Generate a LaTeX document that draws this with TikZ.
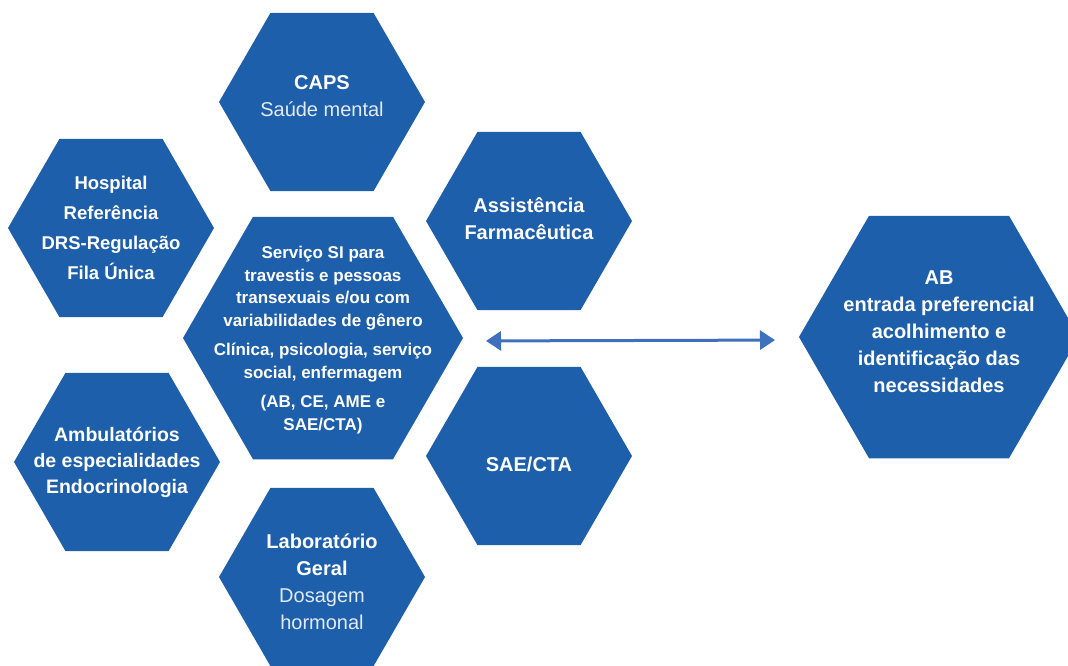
\documentclass[tikz,border=0pt]{standalone}
\usepackage{fontspec}
\setmainfont{Liberation Sans}
\usetikzlibrary{shapes.geometric,arrows.meta}
\definecolor{hexblue}{RGB}{30,95,172}
\definecolor{arrowblue}{RGB}{62,112,190}
\definecolor{softwhite}{RGB}{226,234,245}
\newcommand{\lite}[1]{{\mdseries\color{softwhite}#1}}
\begin{document}
\begin{tikzpicture}[x=1pt,y=-1pt,
  hexa/.style={regular polygon, regular polygon sides=6, fill=hexblue,
    draw=none, inner sep=0pt, outer sep=0pt},
  smallhex/.style={hexa, minimum size=206pt},
  bighex/.style={hexa, minimum size=280pt},
  lbl/.style={text=white, align=center, inner sep=0pt,
    font=\bfseries\fontsize{20}{27}\selectfont},
  link/.style={draw=arrowblue, line width=3pt,
    {Triangle[length=15pt,width=19pt]}-{Triangle[length=15pt,width=19pt]}}
]
\clip (0,0) rectangle (1068,665);

% hexagon tiles
\node[smallhex] (caps) at (322,102) {};
\node[smallhex] (hosp) at (111,228) {};
\node[bighex]   (si)   at (323,338) {};
\node[smallhex] (farm) at (529,221) {};
\node[smallhex] (amb)  at (117,462) {};
\node[smallhex] (sae)  at (529,456) {};
\node[smallhex] (lab)  at (322,577) {};
\node[bighex]   (ab)   at (939,337) {};

% labels
\node[lbl, yshift=6pt] (caps-t) at (caps) {CAPS\\\lite{Saúde mental}};
\node[lbl, font=\bfseries\fontsize{18.5}{30}\selectfont] (hosp-t) at (hosp)
  {Hospital\\Referência\\DRS-Regulação\\Fila Única};
\node[lbl, yshift=2pt] (farm-t) at (farm) {Assistência\\Farmacêutica};
\node[lbl, font=\bfseries\fontsize{17}{22.5}\selectfont, yshift=-2pt] (si-t) at (si)
  {Serviço SI para\\travestis e pessoas\\transexuais e/ou com\\variabilidades de gênero\\[7pt]
   Clínica, psicologia, serviço\\social, enfermagem\\[7pt]
   (AB, CE, AME e\\SAE/CTA)};
\node[lbl, yshift=5pt] (ab-t) at (ab)
  {AB\\entrada preferencial\\acolhimento e\\identificação das\\necessidades};
\node[lbl, font=\bfseries\fontsize{19.5}{26}\selectfont] (amb-t) at (amb)
  {Ambulatórios\\de especialidades\\Endocrinologia};
\node[lbl, yshift=-8pt] (sae-t) at (sae) {SAE/CTA};
\node[lbl, yshift=-5pt] (lab-t) at (lab) {Laboratório\\Geral\\\lite{Dosagem}\\\lite{hormonal}};

% two-way link between the service and primary care
\draw[link, shorten <=23pt, shorten >=24pt, transform canvas={yshift=-3pt}] (si.east) -- (ab.west);
\end{tikzpicture}
\end{document}
